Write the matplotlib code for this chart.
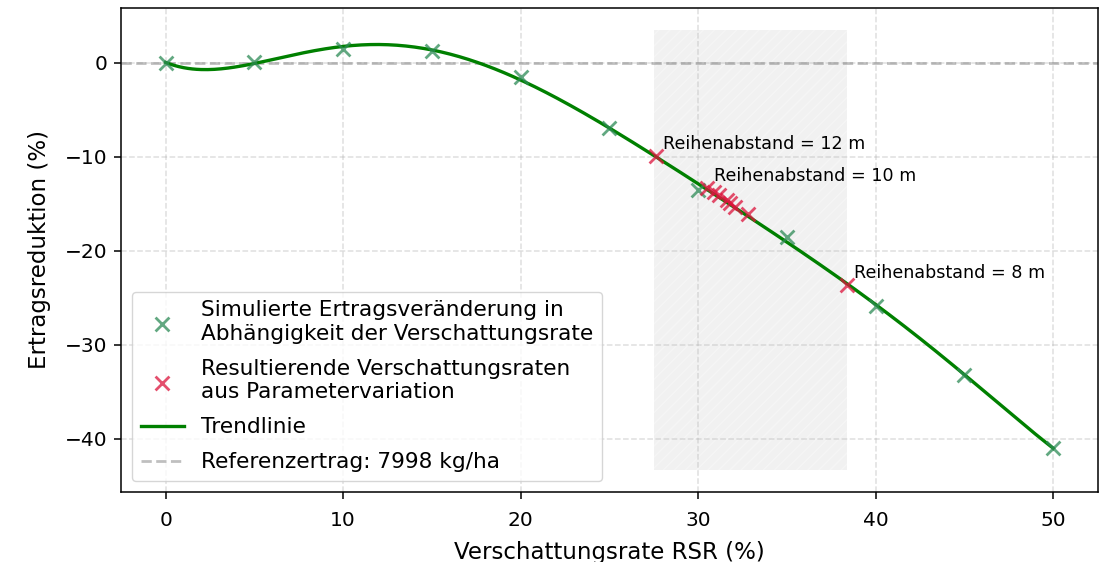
import numpy as np
import matplotlib
matplotlib.use("Agg")
import matplotlib.pyplot as plt

# Data
rsr_sim = [0, 5, 10, 15, 20, 25, 30, 35, 40, 45, 50]
yield_red_sim = [0.0, 0.1, 1.5, 1.3, -1.5, -6.9, -13.5, -18.5, -25.9, -33.2, -41.0]

rsr_param = [27.6, 30.5, 30.9, 31.2, 31.6, 31.8, 32.1, 32.8, 38.4]
yield_param = [-9.9, -13.3, -13.7, -14.1, -14.6, -14.9, -15.3, -16.1, -23.6]

labels_text = ["Reihenabstand = 12 m", "Reihenabstand = 10 m", "Reihenabstand = 8 m"]
labels_x = [27.6, 30.5, 38.4]
labels_y = [-9.9, -13.3, -23.6]

span_x = [27.5, 38.4]
span_y = [-43.3, 3.5]

reference_yield = 7998
trend_degree = 6

plt.rcParams['font.family'] = ['DejaVu Sans']
fig = plt.figure(figsize=(11.02, 5.62), dpi=100)
ax = fig.add_axes([0.110, 0.125, 0.886, 0.861])

# shaded region
ax.fill_between(span_x, span_y[0], span_y[1], facecolor='lightgray', alpha=0.3,
                hatch='///', edgecolor='white', linewidth=0)

ax.axhline(0, color='gray', linestyle='--', alpha=0.5, linewidth=2.0,
           label=f'Referenzertrag: {reference_yield} kg/ha')

coef = np.polyfit(rsr_sim, yield_red_sim, trend_degree)
xs = np.linspace(min(rsr_sim), max(rsr_sim), 400)
ax.plot(xs, np.polyval(coef, xs), color='green', linewidth=2.4, label='Trendlinie')

ax.scatter(rsr_sim, yield_red_sim, marker='x', color='seagreen', alpha=0.75, s=100,
           linewidths=2.0,
           label='Simulierte Ertragsveränderung in\nAbhängigkeit der Verschattungsrate', zorder=3)
ax.scatter(rsr_param, yield_param, marker='x', color='crimson', alpha=0.75, s=100,
           linewidths=2.0,
           label='Resultierende Verschattungsraten\naus Parametervariation', zorder=3)

for t, x, y in zip(labels_text, labels_x, labels_y):
    ax.text(x + 0.4, y + 0.7, t, fontsize=12.6, color='black')

ax.grid(True, linestyle='--', alpha=0.4, linewidth=1.1)
ax.set_xlabel('Verschattungsrate RSR (%)', fontsize=16.5, labelpad=8)
ax.set_ylabel('Ertragsreduktion (%)', fontsize=16.5, labelpad=10)
ax.tick_params(labelsize=14.5, length=4.9, width=1.1, pad=5)
ax.tick_params(axis='x', pad=9)
for s in ax.spines.values():
    s.set_linewidth(1.1)
ax.set_xlim(-2.5, 52.5)

h, l = ax.get_legend_handles_labels()
order = [2, 3, 1, 0]
ax.legend([h[i] for i in order], [l[i] for i in order], loc='lower left', fontsize=15.6,
          handlelength=2.0, labelspacing=0.7)

fig.savefig('out.png', dpi=100)
